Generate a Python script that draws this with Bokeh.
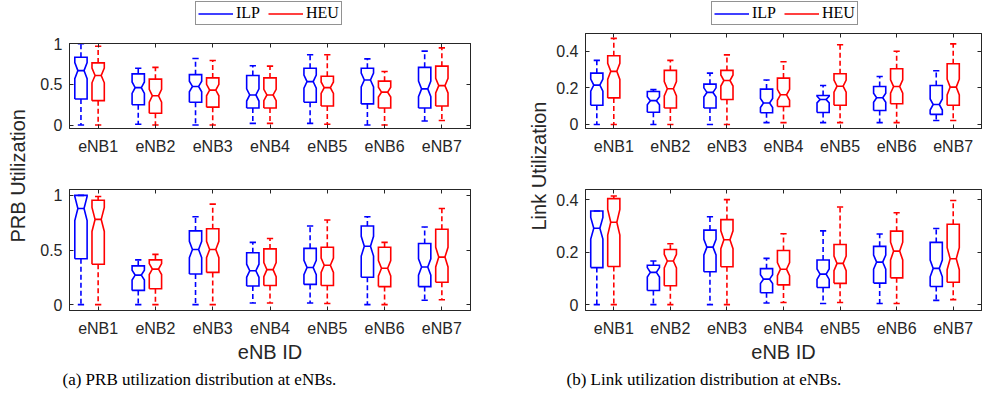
import numpy as np
from bokeh.plotting import figure
from bokeh.models import (Range1d, FixedTicker, LinearAxis, NumeralTickFormatter, Label,
                          Legend, LegendItem, ColumnDataSource)
from bokeh.layouts import row, column
from bokeh.embed import file_html
from bokeh.resources import INLINE

enbs = ["eNB1", "eNB2", "eNB3", "eNB4", "eNB5", "eNB6", "eNB7"]
heu_pos = [1, 2, 3, 4, 5, 6, 7]

# ---- PRB utilization, top panel ----
prb_top_ilp_lo = [0.00, 0.01, 0.00, 0.02, 0.02, 0.00, 0.05]
prb_top_ilp_q1 = [0.32, 0.25, 0.28, 0.21, 0.28, 0.26, 0.21]
prb_top_ilp_med = [0.67, 0.46, 0.475, 0.37, 0.535, 0.555, 0.445]
prb_top_ilp_q3 = [0.835, 0.63, 0.62, 0.61, 0.70, 0.70, 0.71]
prb_top_ilp_hi = [1.00, 0.70, 0.82, 0.73, 0.865, 0.815, 0.91]
prb_top_ilp_notch = [0.10, 0.07, 0.065, 0.075, 0.08, 0.085, 0.095]

prb_top_heu_lo = [0.00, 0.00, 0.00, 0.02, 0.01, 0.00, 0.055]
prb_top_heu_q1 = [0.30, 0.145, 0.22, 0.21, 0.235, 0.21, 0.235]
prb_top_heu_med = [0.61, 0.36, 0.43, 0.37, 0.46, 0.405, 0.485]
prb_top_heu_q3 = [0.765, 0.565, 0.58, 0.58, 0.60, 0.54, 0.725]
prb_top_heu_hi = [0.97, 0.71, 0.795, 0.725, 0.865, 0.66, 0.95]
prb_top_heu_notch = [0.09, 0.08, 0.07, 0.07, 0.07, 0.06, 0.09]

# ---- PRB utilization, bottom panel ----
prb_bot_ilp_lo = [0.00, 0.00, 0.00, 0.015, 0.015, 0.00, 0.04]
prb_bot_ilp_q1 = [0.42, 0.13, 0.28, 0.17, 0.185, 0.25, 0.165]
prb_bot_ilp_med = [0.88, 0.27, 0.505, 0.31, 0.34, 0.535, 0.345]
prb_bot_ilp_q3 = [1.00, 0.355, 0.675, 0.475, 0.515, 0.72, 0.56]
prb_bot_ilp_hi = [1.00, 0.41, 0.805, 0.57, 0.72, 0.805, 0.71]
prb_bot_ilp_notch = [0.11, 0.045, 0.075, 0.06, 0.065, 0.09, 0.075]

prb_bot_heu_lo = [0.00, 0.00, 0.00, 0.015, 0.01, 0.00, 0.045]
prb_bot_heu_q1 = [0.37, 0.145, 0.295, 0.175, 0.175, 0.165, 0.205]
prb_bot_heu_med = [0.78, 0.325, 0.505, 0.32, 0.36, 0.333, 0.435]
prb_bot_heu_q3 = [0.955, 0.41, 0.695, 0.51, 0.525, 0.525, 0.69]
prb_bot_heu_hi = [0.99, 0.46, 0.92, 0.605, 0.775, 0.57, 0.88]
prb_bot_heu_notch = [0.11, 0.05, 0.075, 0.065, 0.065, 0.07, 0.09]

# ---- Link utilization, top panel ----
link_top_ilp_lo = [0.00, 0.00, 0.00, 0.01, 0.01, 0.01, 0.022]
link_top_ilp_q1 = [0.105, 0.067, 0.09, 0.064, 0.065, 0.076, 0.055]
link_top_ilp_med = [0.215, 0.13, 0.175, 0.117, 0.136, 0.146, 0.109]
link_top_ilp_q3 = [0.28, 0.18, 0.22, 0.193, 0.158, 0.207, 0.213]
link_top_ilp_hi = [0.35, 0.19, 0.28, 0.243, 0.213, 0.262, 0.293]
link_top_ilp_notch = [0.033, 0.022, 0.025, 0.025, 0.018, 0.025, 0.03]

link_top_heu_lo = [0.00, 0.00, 0.00, 0.01, 0.01, 0.01, 0.022]
link_top_heu_q1 = [0.145, 0.09, 0.136, 0.098, 0.105, 0.113, 0.105]
link_top_heu_med = [0.29, 0.195, 0.24, 0.162, 0.209, 0.207, 0.204]
link_top_heu_q3 = [0.375, 0.295, 0.295, 0.253, 0.277, 0.304, 0.331]
link_top_heu_hi = [0.47, 0.35, 0.38, 0.342, 0.435, 0.40, 0.44]
link_top_heu_notch = [0.044, 0.039, 0.03, 0.03, 0.033, 0.036, 0.043]

# ---- Link utilization, bottom panel ----
link_bot_ilp_lo = [0.00, 0.00, 0.00, 0.006, 0.004, 0.004, 0.016]
link_bot_ilp_q1 = [0.141, 0.054, 0.125, 0.045, 0.065, 0.082, 0.069]
link_bot_ilp_med = [0.291, 0.123, 0.219, 0.097, 0.116, 0.162, 0.138]
link_bot_ilp_q3 = [0.357, 0.15, 0.284, 0.137, 0.17, 0.222, 0.237]
link_bot_ilp_hi = [0.357, 0.166, 0.335, 0.176, 0.281, 0.269, 0.29]
link_bot_ilp_notch = [0.041, 0.018, 0.03, 0.017, 0.02, 0.027, 0.032]

link_bot_heu_lo = [0.00, 0.00, 0.00, 0.008, 0.008, 0.004, 0.019]
link_bot_heu_q1 = [0.145, 0.072, 0.144, 0.075, 0.081, 0.102, 0.085]
link_bot_heu_med = [0.314, 0.166, 0.247, 0.135, 0.157, 0.204, 0.175]
link_bot_heu_q3 = [0.404, 0.21, 0.324, 0.206, 0.229, 0.28, 0.306]
link_bot_heu_hi = [0.414, 0.232, 0.40, 0.27, 0.372, 0.35, 0.397]
link_bot_heu_notch = [0.049, 0.026, 0.034, 0.025, 0.028, 0.034, 0.042]

FONT = "Liberation Sans"
SERIF = "Liberation Serif"
AX = "#262626"
BLUE = "#0000ff"
RED = "#ff0000"
BOX_W = 0.215
OFFSET = 0.3
CAP_W = 0.11
LW = 1.6


def add_boxes(p, pos, lo, q1, med, q3, hi, notch, color):
    pos = np.asarray(pos, dtype=float)
    lo, q1, med, q3, hi, notch = [np.asarray(a, dtype=float) for a in (lo, q1, med, q3, hi, notch)]
    xs, ys = [], []
    k = BOX_W / 4.0
    for x, b, m, c, n in zip(pos, q1, med, q3, notch):
        l, r = x - BOX_W / 2, x + BOX_W / 2
        xs.append([l, l, l + k, l, l, r, r, r - k, r, r, l])
        ys.append([b, m - n, m, m + n, c, c, m + n, m, m - n, b, b])
    p.multi_line(xs="xs", ys="ys", source=ColumnDataSource(dict(xs=xs, ys=ys)),
                 line_color=color, line_width=LW, line_join="miter")
    p.segment(x0=pos - BOX_W / 2 + k, y0=med, x1=pos + BOX_W / 2 - k, y1=med,
              line_color=color, line_width=LW)
    p.segment(x0=pos, y0=q3, x1=pos, y1=hi, line_color=color, line_width=LW, line_dash="5 3")
    p.segment(x0=pos, y0=q1, x1=pos, y1=lo, line_color=color, line_width=LW, line_dash="5 3")
    p.segment(x0=pos - CAP_W / 2, y0=hi, x1=pos + CAP_W / 2, y1=hi, line_color=color, line_width=LW)
    p.segment(x0=pos - CAP_W / 2, y0=lo, x1=pos + CAP_W / 2, y1=lo, line_color=color, line_width=LW)


def make_panel(width, height, bl, br, bt, bb, yr, yticks):
    p = figure(width=width, height=height, x_range=Range1d(0.5, 7.5), y_range=Range1d(*yr),
               output_backend="svg", toolbar_location=None,
               min_border_left=bl, min_border_right=br, min_border_top=bt, min_border_bottom=bb,
               background_fill_color="white", border_fill_color="white",
               outline_line_color=AX, outline_line_width=1)
    p.xgrid.visible = False
    p.ygrid.visible = False
    xa = p.below[0]
    ya = p.left[0]
    xa.ticker = FixedTicker(ticks=heu_pos)
    xa.major_label_overrides = {i: lab for i, lab in zip(heu_pos, enbs)}
    ya.ticker = FixedTicker(ticks=yticks)
    ya.formatter = NumeralTickFormatter(format="0.[0]")
    for ax in (xa, ya):
        ax.major_tick_in = 4
        ax.major_tick_out = 0
        ax.minor_tick_line_color = None
        ax.axis_line_color = AX
        ax.major_tick_line_color = AX
        ax.major_label_text_font = FONT
        ax.major_label_text_font_size = "16px"
        ax.major_label_text_color = AX
    xa.major_label_standoff = 9
    ya.major_label_standoff = 7
    top = LinearAxis(ticker=FixedTicker(ticks=heu_pos), major_label_text_font_size="0px",
                     major_label_text_color=None,
                     major_label_standoff=0, major_tick_in=4, major_tick_out=0,
                     minor_tick_line_color=None, axis_line_color=AX, major_tick_line_color=AX)
    right = LinearAxis(ticker=FixedTicker(ticks=yticks), major_label_text_font_size="0px",
                       major_label_text_color=None,
                       major_label_standoff=0, major_tick_in=4, major_tick_out=0,
                       minor_tick_line_color=None, axis_line_color=AX, major_tick_line_color=AX)
    p.add_layout(top, "above")
    p.add_layout(right, "right")
    return p, xa


def fill(p, ilp, heu):
    blue_pos = [x - OFFSET for x in heu_pos]
    add_boxes(p, blue_pos, *ilp, BLUE)
    add_boxes(p, heu_pos, *heu, RED)


def xlabel(xa):
    xa.axis_label = "eNB ID"
    xa.axis_label_text_font = FONT
    xa.axis_label_text_font_size = "20px"
    xa.axis_label_text_font_style = "normal"
    xa.axis_label_text_color = AX
    xa.axis_label_standoff = 1


def blank(width, height):
    f = figure(width=width, height=height, x_range=Range1d(0, 1), y_range=Range1d(0, 1),
               x_axis_type=None, y_axis_type=None, output_backend="svg", toolbar_location=None,
               min_border=0, outline_line_color=None, background_fill_color="white",
               border_fill_color="white")
    return f


def legend_strip(width, x):
    # frame of this strip is aligned with the panel frame below it
    f = blank(width, 28)
    rb = f.line(x=[np.nan], y=[np.nan], line_color=BLUE, line_width=LW)
    rr = f.line(x=[np.nan], y=[np.nan], line_color=RED, line_width=LW)
    lg = Legend(items=[LegendItem(label="ILP", renderers=[rb]), LegendItem(label="HEU", renderers=[rr])],
                location=(x, 3), orientation="horizontal",
                label_text_font=SERIF, label_text_font_size="16px", label_text_color="black",
                glyph_width=35, glyph_height=15, label_height=15, label_standoff=3,
                padding=2, spacing=8, margin=0,
                border_line_color=AX, border_line_width=1, background_fill_color="white",
                background_fill_alpha=1)
    f.add_layout(lg)
    return f


def label_strip(width, text, x, y):
    f = blank(width, 365)
    f.add_layout(Label(x=x, y=y, x_units="screen", y_units="screen", text=text, angle=np.pi / 2,
                       text_font=FONT, text_font_size="20px", text_color=AX,
                       text_baseline="middle", text_align="left"))
    return f


# top-left
tl, _ = make_panel(465, 132, 33, 31, 15, 32, (-0.043, 1.004), [0, 0.5, 1])
fill(tl, (prb_top_ilp_lo, prb_top_ilp_q1, prb_top_ilp_med, prb_top_ilp_q3, prb_top_ilp_hi, prb_top_ilp_notch),
     (prb_top_heu_lo, prb_top_heu_q1, prb_top_heu_med, prb_top_heu_q3, prb_top_heu_hi, prb_top_heu_notch))

# bottom-left
bl, bl_x = make_panel(465, 205, 33, 31, 29, 53, (-0.054, 1.054), [0, 0.5, 1])
fill(bl, (prb_bot_ilp_lo, prb_bot_ilp_q1, prb_bot_ilp_med, prb_bot_ilp_q3, prb_bot_ilp_hi, prb_bot_ilp_notch),
     (prb_bot_heu_lo, prb_bot_heu_q1, prb_bot_heu_med, prb_bot_heu_q3, prb_bot_heu_hi, prb_bot_heu_notch))
xlabel(bl_x)

# top-right
tr, _ = make_panel(432, 132, 35, 1, 5, 32, (-0.022, 0.4965), [0, 0.2, 0.4])
fill(tr, (link_top_ilp_lo, link_top_ilp_q1, link_top_ilp_med, link_top_ilp_q3, link_top_ilp_hi, link_top_ilp_notch),
     (link_top_heu_lo, link_top_heu_q1, link_top_heu_med, link_top_heu_q3, link_top_heu_hi, link_top_heu_notch))

# bottom-right
br, br_x = make_panel(432, 205, 35, 1, 29, 53, (-0.0225, 0.4387), [0, 0.2, 0.4])
fill(br, (link_bot_ilp_lo, link_bot_ilp_q1, link_bot_ilp_med, link_bot_ilp_q3, link_bot_ilp_hi, link_bot_ilp_notch),
     (link_bot_heu_lo, link_bot_heu_q1, link_bot_heu_med, link_bot_heu_q3, link_bot_heu_hi, link_bot_heu_notch))
xlabel(br_x)

leg_a = legend_strip(465, 126)
leg_b = legend_strip(432, 126)

ylab_a = label_strip(36, "PRB Utilization", 17, 123)
ylab_b = label_strip(49, "Link Utilization", 37, 135)

# caption strip across the full width
cap = blank(982, 30)
cap.add_layout(Label(x=62, y=16, x_units="screen", y_units="screen",
                     text="(a) PRB utilization distribution at eNBs.", text_font=SERIF,
                     text_font_size="17px", text_color="black", text_baseline="middle", text_align="left"))
cap.add_layout(Label(x=566, y=16, x_units="screen", y_units="screen",
                     text="(b) Link utilization distribution at eNBs.", text_font=SERIF,
                     text_font_size="17px", text_color="black", text_baseline="middle", text_align="left"))

top_row = row(ylab_a, column(leg_a, tl, bl), ylab_b, column(leg_b, tr, br))
root = column(top_row, cap)

open("out.html", "w").write(file_html(root, INLINE))
